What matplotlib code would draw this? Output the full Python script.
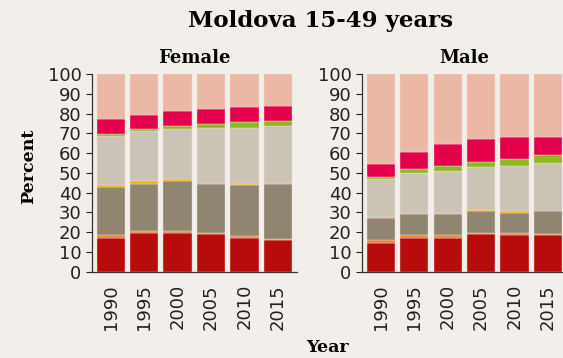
import matplotlib
matplotlib.use("Agg")
import matplotlib.pyplot as plt
import numpy as np

years = ["1990", "1995", "2000", "2005", "2010", "2015"]

# cumulative shares (percent) read at the top of each layer, bottom to top
layer_colors = ["#b80c0c", "#ee7f3c", "#8f8570", "#f0b400",
                "#cbc3b6", "#8cb821", "#e4004a", "#ebb8a6"]

female_tops = {
    "1990": [17.2, 18.6, 42.9, 43.6, 68.8, 69.4, 77.4, 100],
    "1995": [19.3, 20.6, 44.3, 45.6, 71.3, 72.1, 79.4, 100],
    "2000": [19.3, 20.6, 45.6, 46.6, 72.3, 73.5, 81.4, 100],
    "2005": [18.8, 19.6, 44.3, 44.9, 72.8, 74.8, 82.3, 100],
    "2010": [17.2, 18.1, 43.6, 44.4, 72.8, 75.5, 83.1, 100],
    "2015": [15.9, 16.6, 44.3, 44.9, 73.5, 76.2, 83.6, 100],
}
male_tops = {
    "1990": [14.5, 16.0, 27.2, 27.8, 46.9, 47.9, 54.5, 100],
    "1995": [17.0, 18.5, 29.2, 29.7, 49.9, 51.9, 60.5, 100],
    "2000": [17.0, 18.5, 29.2, 29.7, 50.9, 53.5, 64.6, 100],
    "2005": [19.2, 19.6, 30.7, 31.2, 53.0, 55.5, 67.1, 100],
    "2010": [18.5, 19.6, 29.7, 30.7, 53.5, 57.0, 68.1, 100],
    "2015": [18.5, 19.1, 30.7, 30.7, 55.0, 59.0, 68.1, 100],
}

bg = "#f2efea"
slab = "DejaVu Serif"

fig = plt.figure(figsize=(5.63, 3.58), dpi=100, facecolor=bg)
ax_f = fig.add_axes([0.1634, 0.2416, 0.3636, 0.5517])
ax_m = fig.add_axes([0.643, 0.2416, 0.3636, 0.5517])


def draw_panel(ax, tops, title):
    ax.set_facecolor(bg)
    x = np.arange(len(years))
    for i, yr in enumerate(years):
        t = tops[yr]
        bottom = 0
        for top, col in zip(t, layer_colors):
            if top - bottom > 0:
                ax.bar(x[i], top - bottom, bottom=bottom, width=0.845,
                       color=col, edgecolor="#f4ddd6", linewidth=0.3)
            bottom = top
    ax.set_xlim(-0.56, 5.56)
    ax.set_ylim(0, 100)
    ax.set_yticks(range(0, 101, 10))
    ax.set_xticks(x)
    ax.set_xticklabels(years, rotation=90)
    ax.tick_params(axis="y", length=4, width=0.8, pad=3.5, labelsize=13,
                   colors="#222222")
    ax.tick_params(axis="x", length=0, pad=9, labelsize=13, colors="#222222")
    for s in ["top", "right"]:
        ax.spines[s].set_visible(False)
    for s in ["left", "bottom"]:
        ax.spines[s].set_color("#333333")
        ax.spines[s].set_linewidth(0.9)
    ax.set_title(title, fontfamily=slab, fontweight="heavy", fontsize=13,
                 pad=8)


draw_panel(ax_f, female_tops, "Female")
draw_panel(ax_m, male_tops, "Male")

fig.text(0.57, 0.94, "Moldova 15-49 years", ha="center", va="center",
         fontfamily=slab, fontweight="heavy", fontsize=16.5)
fig.text(0.05, 0.535, "Percent", ha="center", va="center", rotation=90,
         fontfamily=slab, fontweight="heavy", fontsize=12.5)
fig.text(0.582, 0.03, "Year", ha="center", va="center",
         fontfamily=slab, fontweight="heavy", fontsize=12.5)

fig.savefig("out.png", dpi=100, facecolor=bg)
